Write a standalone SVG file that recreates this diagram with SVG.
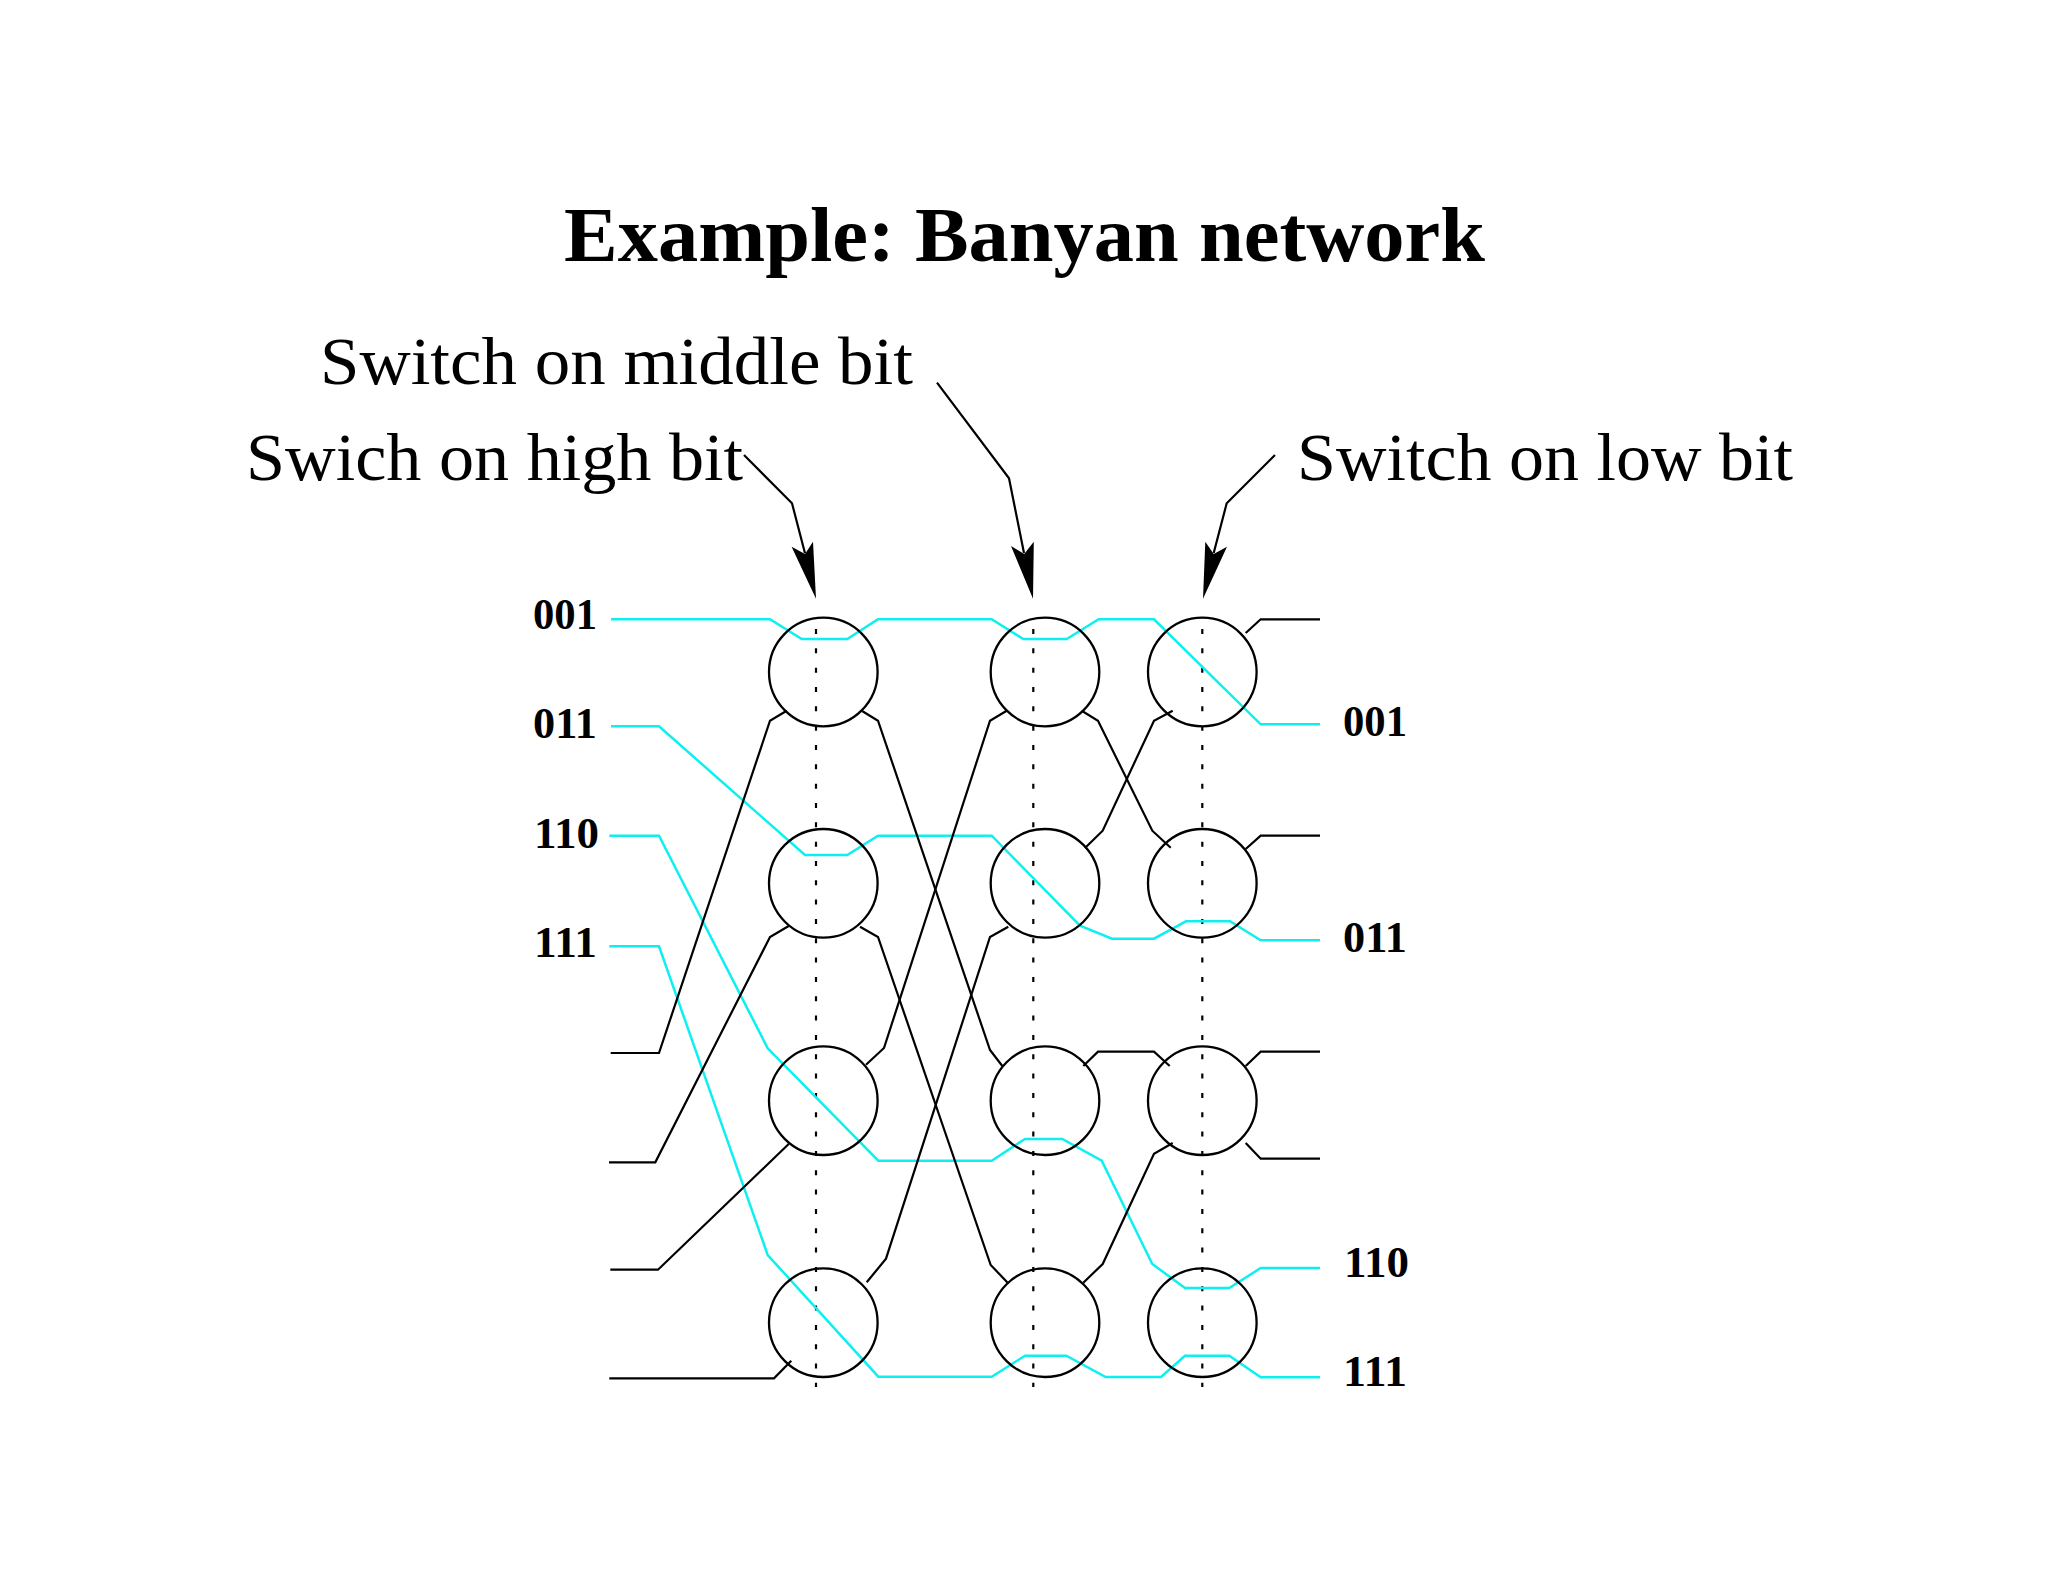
<svg xmlns="http://www.w3.org/2000/svg" width="2048" height="1582" viewBox="0 0 2048 1582">
<style>
text{font-family:"Liberation Serif","Times New Roman",serif;fill:#000}
.title{font-size:78px;font-weight:bold}
.lab{font-size:68px}
.bit{font-size:44px;font-weight:bold}
.sw{fill:none;stroke:#000;stroke-width:2.3}
.k{fill:none;stroke:#000;stroke-width:2.2}
.c{fill:none;stroke:#0ef0f0;stroke-width:2.5}
.d{fill:none;stroke:#000;stroke-width:2.2;stroke-dasharray:5 14.33}
.a{fill:#000;stroke:none}
</style>
<rect width="2048" height="1582" fill="#fff"/>
<text class="title" x="564" y="261" textLength="921" lengthAdjust="spacingAndGlyphs">Example: Banyan network</text>
<text class="lab" x="320" y="384" textLength="593" lengthAdjust="spacingAndGlyphs">Switch on middle bit</text>
<text class="lab" x="246" y="480" textLength="497" lengthAdjust="spacingAndGlyphs">Swich on high bit</text>
<text class="lab" x="1297" y="480" textLength="496" lengthAdjust="spacingAndGlyphs">Switch on low bit</text>
<g id="connectors">
<path class="d" d="M816 629V1387M1033.3 629V1387M1202.3 629V1387"/>
<g id="signals">
<polyline class="c" points="611,619.3 770,619.3 801.7,639 847.3,639 878,619.3 991.7,619.3 1023.3,639 1066.7,639 1098.7,619.3 1154,619.3 1260.7,724.3 1320,724.3"/>
<polyline class="c" points="611,726.3 659,726.3 805,855 847.3,855 878,835.7 991.7,835.7 1080,925.7 1112,938.7 1154,938.7 1186,921.3 1230,921.3 1260.7,940.3 1320,940.3"/>
<polyline class="c" points="609.3,835.7 659,835.7 767.7,1048.3 878.3,1160.7 991.7,1160.7 1025,1139 1062.3,1139 1101.7,1160.7 1152.3,1264 1185,1288 1229.3,1288 1260.7,1268 1320,1268"/>
<polyline class="c" points="609.3,946.3 659,946.3 767.7,1255 878.3,1376.7 991.7,1376.7 1025,1355.7 1066.3,1355.7 1105.7,1377 1161,1377 1185,1355.7 1229.3,1355.7 1260.7,1377.3 1320,1377.3"/>
</g>
<g id="wires">
<polyline class="k" points="610.7,1053 659,1053 770,720.7 786.7,710.7"/>
<polyline class="k" points="609,1162.3 655.3,1162.3 770,937 788.7,926"/>
<polyline class="k" points="610.3,1269.7 658,1269.7 788.7,1144"/>
<polyline class="k" points="609.3,1378.3 774,1378.3 791.3,1360.7"/>
<polyline class="k" points="861.7,710.7 878,720.7 990,1050 1002.3,1066"/>
<polyline class="k" points="860,926.7 878,937 990.7,1265 1007.7,1282.7"/>
<polyline class="k" points="866,1064.7 884,1048 990,720.7 1006.7,710.7"/>
<polyline class="k" points="866.7,1282.3 886,1258.7 990,937 1008.3,926.7"/>
<polyline class="k" points="1081.7,710.7 1098,720.7 1152.3,830.7 1170.7,847.7"/>
<polyline class="k" points="1085,848 1102.7,830.7 1154,720.7 1172.7,710.7"/>
<polyline class="k" points="1245.7,633 1260.7,619.3 1320,619.3"/>
<polyline class="k" points="1245.7,849 1260.7,835.7 1320,835.7"/>
<polyline class="k" points="1083.3,1066 1098,1051.7 1154,1051.7 1169.7,1066"/>
<polyline class="k" points="1245.7,1066 1260.7,1051.7 1320,1051.7"/>
<polyline class="k" points="1245.7,1143 1260.7,1158.7 1320,1158.7"/>
<polyline class="k" points="1083.3,1282.7 1102.7,1264 1154,1153.7 1172.7,1143"/>
</g>
<g id="pointers">
<polyline class="k" points="744,455 792,503.3 805,553.3"/>
<path class="a" d="M816 598.7L791.6 546.7L805 554L813 541.7Z"/>
<polyline class="k" points="937,382.7 1009,478.3 1024,553"/>
<path class="a" d="M1033 598.7L1011 546L1024.2 554L1033.8 541.7Z"/>
<polyline class="k" points="1275,455 1226.7,503.3 1213.7,553"/>
<path class="a" d="M1203 598.7L1205.3 541.7L1213.7 554L1227 546.7Z"/>
</g>
</g>
<g id="sw-1-1"><circle class="sw" cx="823.3" cy="672" r="54.3"/></g>
<g id="sw-1-2"><circle class="sw" cx="823.3" cy="883.3" r="54.3"/></g>
<g id="sw-1-3"><circle class="sw" cx="823.3" cy="1100.7" r="54.3"/></g>
<g id="sw-1-4"><circle class="sw" cx="823.3" cy="1322.7" r="54.3"/></g>
<g id="sw-2-1"><circle class="sw" cx="1045" cy="672" r="54.3"/></g>
<g id="sw-2-2"><circle class="sw" cx="1045" cy="883.3" r="54.3"/></g>
<g id="sw-2-3"><circle class="sw" cx="1045" cy="1100.7" r="54.3"/></g>
<g id="sw-2-4"><circle class="sw" cx="1045" cy="1322.7" r="54.3"/></g>
<g id="sw-3-1"><circle class="sw" cx="1202.3" cy="672" r="54.3"/></g>
<g id="sw-3-2"><circle class="sw" cx="1202.3" cy="883.3" r="54.3"/></g>
<g id="sw-3-3"><circle class="sw" cx="1202.3" cy="1100.7" r="54.3"/></g>
<g id="sw-3-4"><circle class="sw" cx="1202.3" cy="1322.7" r="54.3"/></g>
<text class="bit" x="533" y="629" textLength="64" lengthAdjust="spacingAndGlyphs">001</text>
<text class="bit" x="533" y="738" textLength="64" lengthAdjust="spacingAndGlyphs">011</text>
<text class="bit" x="534" y="848" textLength="65" lengthAdjust="spacingAndGlyphs">110</text>
<text class="bit" x="534" y="957" textLength="63" lengthAdjust="spacingAndGlyphs">111</text>
<text class="bit" x="1343" y="736" textLength="64" lengthAdjust="spacingAndGlyphs">001</text>
<text class="bit" x="1343" y="952" textLength="64" lengthAdjust="spacingAndGlyphs">011</text>
<text class="bit" x="1344" y="1277" textLength="65" lengthAdjust="spacingAndGlyphs">110</text>
<text class="bit" x="1343" y="1386" textLength="64" lengthAdjust="spacingAndGlyphs">111</text>
</svg>
